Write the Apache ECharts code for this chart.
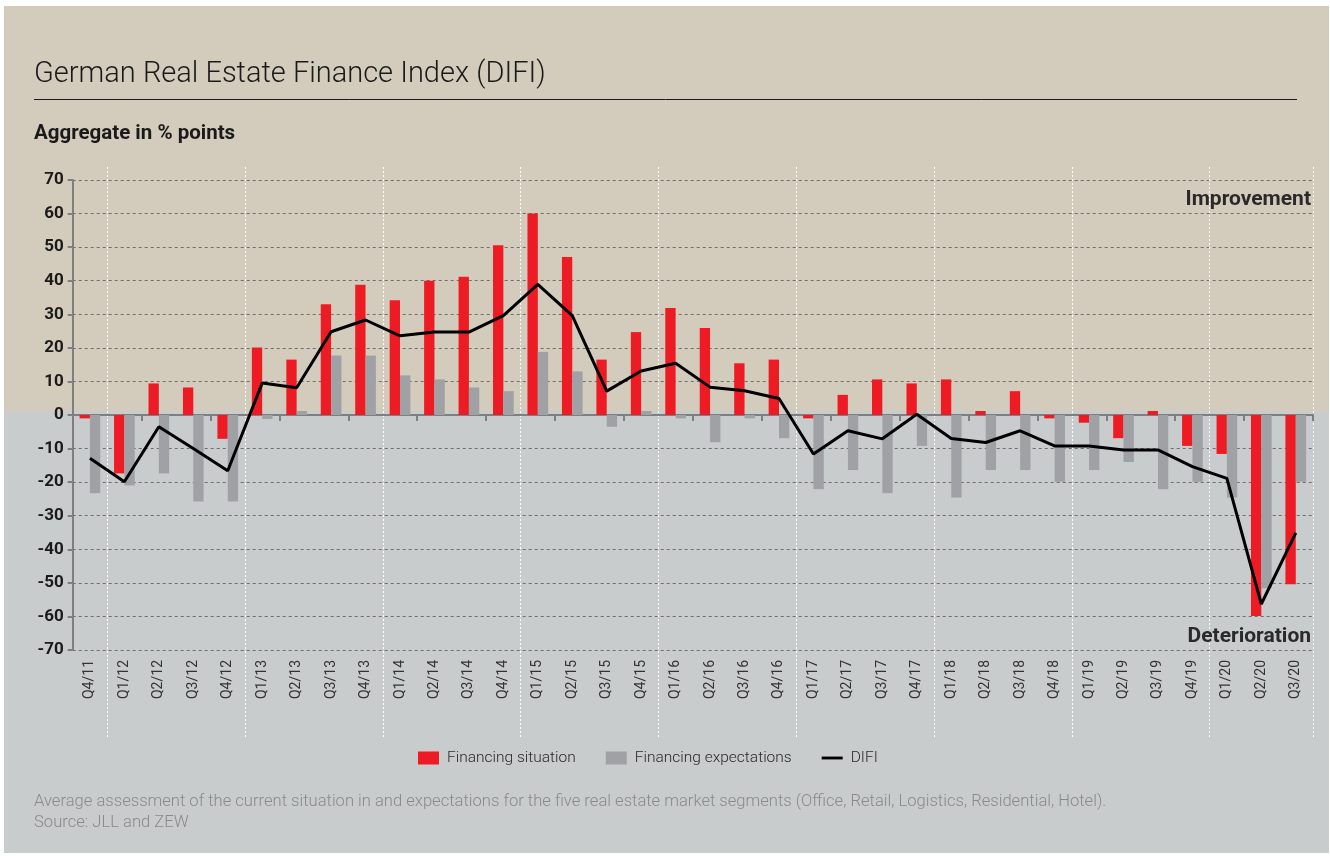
<!DOCTYPE html>
<html>
<head>
<meta charset="utf-8">
<script src="https://cdn.jsdelivr.net/npm/echarts@6/dist/echarts.min.js"></script>
<style>
  html, body { margin: 0; padding: 0; background: #ffffff; }
  #bg { position: absolute; left: 4px; top: 6px; width: 1325px; height: 847px;
        background: linear-gradient(to bottom, #D3CCBC 0px, #D3CCBC 405px, #C9CCCD 405px, #C9CCCD 100%); }
  #chart { position: absolute; left: 0; top: 0; width: 1330px; height: 856px; }
</style>
</head>
<body>
<div id="bg"></div>
<div id="chart"></div>
<script>
const categories = ['Q4/11','Q1/12','Q2/12','Q3/12','Q4/12','Q1/13','Q2/13','Q3/13','Q4/13','Q1/14','Q2/14','Q3/14','Q4/14','Q1/15','Q2/15','Q3/15','Q4/15','Q1/16','Q2/16','Q3/16','Q4/16','Q1/17','Q2/17','Q3/17','Q4/17','Q1/18','Q2/18','Q3/18','Q4/18','Q1/19','Q2/19','Q3/19','Q4/19','Q1/20','Q2/20','Q3/20'];
const financingSituation = [-1, -17.4, 9.4, 8.2, -7.1, 20.1, 16.5, 33, 38.8, 34.2, 40, 41.2, 50.6, 60, 47.1, 16.5, 24.7, 31.9, 25.9, 15.4, 16.5, -1, 6, 10.6, 9.4, 10.6, 1.2, 7.1, -1, -2.3, -6.9, 1.2, -9.2, -11.6, -59.9, -50.4];
const financingExpectations = [-23.3, -21, -17.4, -25.8, -25.8, -1.2, 1.2, 17.7, 17.7, 11.8, 10.6, 8.2, 7.1, 18.8, 13, -3.5, 1.2, -1, -8.1, -1, -6.9, -22.1, -16.4, -23.3, -9.2, -24.6, -16.4, -16.4, -19.9, -16.4, -14, -22.1, -19.9, -24.6, -51.6, -19.9];
const difi = [-12.9, -19.9, -3.5, -10, -16.6, 9.5, 8.1, 24.8, 28.3, 23.6, 24.7, 24.7, 29.6, 38.9, 29.6, 7.1, 13.1, 15.4, 8.3, 7.2, 4.9, -11.6, -4.7, -7.1, 0.2, -7, -8.2, -4.7, -9.2, -9.2, -10.4, -10.4, -15.4, -18.9, -56.3, -35.1];
const yMin = -70, yMax = 70, yStep = 10;

const FONT = 'Roboto';
const chart = echarts.init(document.getElementById('chart'), null, { renderer: 'canvas' });
const option = {
  backgroundColor: 'transparent',
  animation: false,
  textStyle: { fontFamily: FONT },
  title: [
    { text: 'German Real Estate Finance Index (DIFI)', left: 34, top: 60, padding: 0,
      textStyle: { fontFamily: FONT, fontWeight: 300, fontSize: 29, color: '#1a1a1a' } },
    { text: 'Aggregate in % points', left: 34, top: 123, padding: 0,
      textStyle: { fontFamily: FONT, fontWeight: 'bold', fontSize: 20.5, color: '#1a1a1a' } },
    { text: 'Improvement', right: 19, top: 189, padding: 0,
      textStyle: { fontFamily: FONT, fontWeight: 'bold', fontSize: 21, color: '#2a2a2a' } },
    { text: 'Deterioration', right: 19, top: 626, padding: 0,
      textStyle: { fontFamily: FONT, fontWeight: 'bold', fontSize: 21, color: '#2a2a2a' } },
    { text: 'Average assessment of the current situation in and expectations for the five real estate market segments (Office, Retail, Logistics, Residential, Hotel).\nSource: JLL and ZEW',
      left: 34, top: 791, padding: 0,
      textStyle: { fontFamily: FONT, fontWeight: 300, fontSize: 16.6, lineHeight: 21, color: '#8a8a8a' } }
  ],
  graphic: [
    { type: 'line', shape: { x1: 34, y1: 99.5, x2: 1297, y2: 99.5 }, style: { stroke: '#1a1a1a', lineWidth: 1 } }
  ],
  legend: {
    left: 413, top: 745,
    itemWidth: 21, itemHeight: 13, itemGap: 30,
    textStyle: { fontFamily: FONT, fontWeight: 300, fontSize: 15.5, color: '#2a2a2a', padding: [0, 0, 0, 3] },
    data: [
      { name: 'Financing situation', icon: 'rect' },
      { name: 'Financing expectations', icon: 'rect' },
      { name: 'DIFI', icon: 'path://M0,0L22,0L22,3L0,3Z' }
    ]
  },
  grid: [
    { left: 72.7, right: 17, top: 180, bottom: 206 },
    { left: 72.7, right: 17, top: 167, bottom: 118 }
  ],
  xAxis: [
    { type: 'category', data: categories, gridIndex: 0,
      axisLine: { onZero: true, lineStyle: { color: '#7f7f7f', width: 2 } },
      axisTick: { show: true, length: 6, lineStyle: { color: '#7f7f7f', width: 2 } },
      axisLabel: { show: false }, splitLine: { show: false } },
    { type: 'category', data: categories, gridIndex: 0, position: 'bottom',
      axisLine: { show: false, onZero: false }, axisTick: { show: false },
      axisLabel: { show: true, rotate: 90, margin: 10, fontFamily: FONT, fontSize: 14, color: '#333333', interval: 0 },
      splitLine: { show: false } },
    { type: 'category', data: categories, gridIndex: 1,
      axisLine: { show: false }, axisTick: { show: false }, axisLabel: { show: false },
      splitLine: { show: true, interval: (i, v) => v.startsWith('Q1'),
        lineStyle: { color: '#ffffff', width: 1, type: [2, 2] } } }
  ],
  yAxis: [
    { type: 'value', gridIndex: 0, min: yMin, max: yMax, interval: yStep,
      axisLine: { show: true, lineStyle: { color: '#7f7f7f', width: 2 } },
      axisTick: { show: true, length: 5, lineStyle: { color: '#7f7f7f', width: 2 } },
      axisLabel: { margin: 9, fontFamily: FONT, fontWeight: 'bold', fontSize: 17, color: '#1a1a1a' },
      splitLine: { show: true, lineStyle: { color: '#6e6e6e', width: 1, type: [3, 3] } } },
    { type: 'value', gridIndex: 1, min: 0, max: 1, show: false, splitLine: { show: false } }
  ],
  series: [
    { name: 'Financing situation', type: 'bar', xAxisIndex: 0, yAxisIndex: 0,
      data: financingSituation, barWidth: '30%', barGap: '0%',
      itemStyle: { color: '#ED1C24' } },
    { name: 'Financing expectations', type: 'bar', xAxisIndex: 0, yAxisIndex: 0,
      data: financingExpectations, barWidth: '30%', barGap: '0%',
      itemStyle: { color: '#A0A1A5' } },
    { name: 'DIFI', type: 'line', xAxisIndex: 0, yAxisIndex: 0,
      data: difi, symbol: 'none', z: 5,
      lineStyle: { color: '#000000', width: 3 }, itemStyle: { color: '#000000' } }
  ]
};
chart.setOption(option);
</script>
</body>
</html>
